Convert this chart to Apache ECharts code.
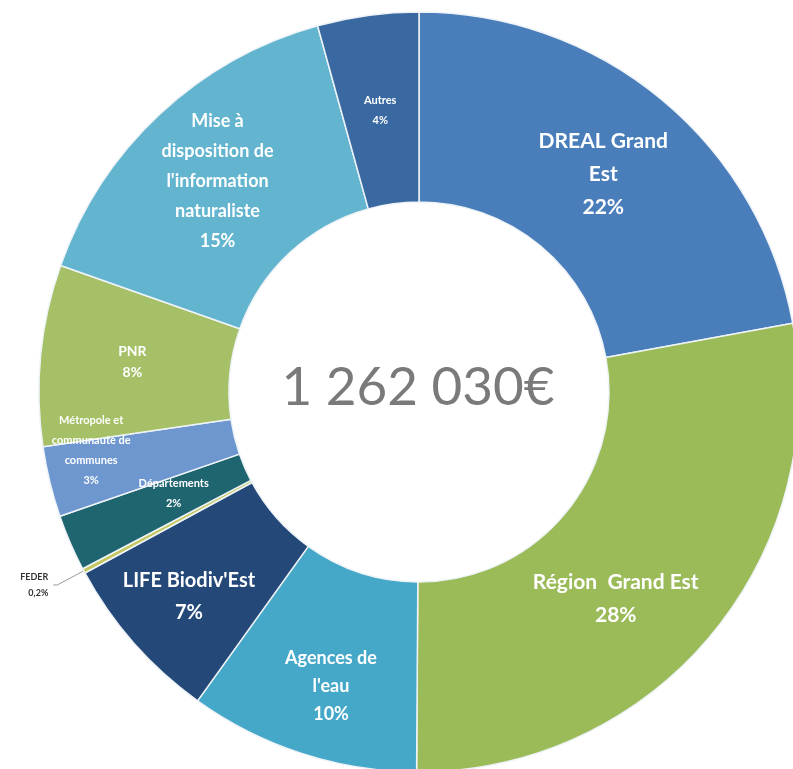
<!DOCTYPE html>
<html>
<head>
<meta charset="utf-8">
<script src="https://cdn.jsdelivr.net/npm/echarts@6/dist/echarts.min.js"></script>
<style>
  html, body { margin: 0; padding: 0; background: #ffffff; }
  #chart { width: 793px; height: 769px; }
</style>
</head>
<body>
<div id="chart"></div>
<script>
// ---- Data ----
const categories = [
  "DREAL Grand Est",
  "Région Grand Est",
  "Agences de l'eau",
  "LIFE Biodiv'Est",
  "FEDER",
  "Départements",
  "Métropole et communauté de communes",
  "PNR",
  "Mise à disposition de l'information naturaliste",
  "Autres"
];
const displayNames = [
  "DREAL Grand\nEst",
  "Région  Grand Est",
  "Agences de\nl'eau",
  "LIFE Biodiv'Est",
  "FEDER",
  "Départements",
  "Métropole et\ncommunauté de\ncommunes",
  "PNR",
  "Mise à\ndisposition de\nl'information\nnaturaliste",
  "Autres"
];
const values = [22.1, 28.0, 9.8, 7.2, 0.2, 2.4, 3.0, 7.7, 15.3, 4.3];
const percentLabels = ["22%", "28%", "10%", "7%", "0,2%", "2%", "3%", "8%", "15%", "4%"];
const totalLabel = "1 262 030€";

// ---- Styles ----
const colors = ["#4a7ebb", "#9bbb59", "#46a8c8", "#244878", "#c3c75c",
                "#1e6570", "#6e97d0", "#a5c066", "#62b4cf", "#3a69a2"];
const fontSizes = [21, 21, 18, 20, 9, 11, 11, 14, 18, 11];
const lineHeights = [33, 33, 28, 32, 16, 20, 20, 21, 30, 20];
const labelShift = [[0, 4], [-24, 22], [1, 20], [-14, 14], [0, 0],
                    [19, -13], [-48, -10], [0, -2], [-5, 0], [0, 4]];

const data = values.map((v, i) => {
  const item = {
    name: categories[i],
    value: v,
    itemStyle: { color: colors[i] },
    label: {
      formatter: displayNames[i] + "\n" + percentLabels[i],
      fontSize: fontSizes[i],
      lineHeight: lineHeights[i]
    }
  };
  if (categories[i] === "FEDER") {
    item.label = {
      position: "outside",
      formatter: displayNames[i] + "\n" + percentLabels[i],
      color: "#333333",
      fontWeight: "bold",
      fontSize: fontSizes[i],
      lineHeight: lineHeights[i],
      align: "center"
    };
    item.labelLine = { show: true, length: 30, length2: 4, smooth: false,
                       lineStyle: { color: "#9a9a9a", width: 1 } };
  }
  return item;
});

const chart = echarts.init(document.getElementById("chart"), null, { renderer: "canvas" });
chart.setOption({
  backgroundColor: "#ffffff",
  animation: false,
  title: {
    text: totalLabel,
    left: 413,
    top: 383,
    textAlign: "center",
    textVerticalAlign: "middle",
    textStyle: { fontFamily: "Lato", fontSize: 53, fontWeight: "normal", color: "#7a7a7a" }
  },
  series: [{
    type: "pie",
    center: [419, 392],
    radius: [190, 380],
    startAngle: 90,
    clockwise: true,
    avoidLabelOverlap: false,
    silent: true,
    itemStyle: { borderColor: "#eef3f8", borderWidth: 1.5 },
    label: {
      show: true,
      position: "inside",
      color: "#ffffff",
      fontFamily: "Lato",
      fontWeight: "bold",
      align: "center"
    },
    labelLine: { show: false },
    labelLayout: function (params) {
      const s = labelShift[params.dataIndex];
      return { dx: s[0], dy: s[1] };
    },
    data: data
  }]
});
</script>
</body>
</html>
